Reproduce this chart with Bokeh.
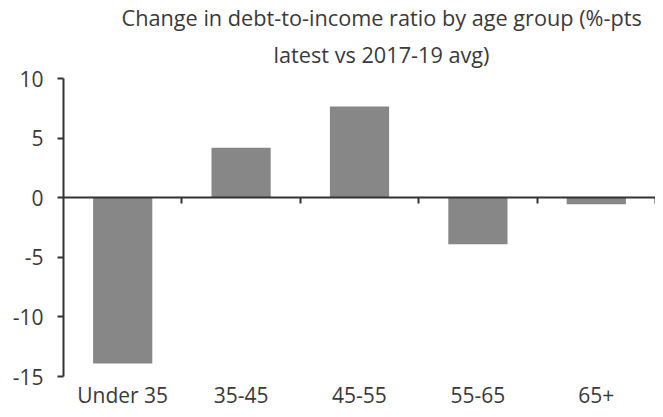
from bokeh.plotting import figure
from bokeh.models import Range1d, LinearAxis, FixedTicker, SingleIntervalTicker, Title, PrintfTickFormatter
from bokeh.embed import file_html
from bokeh.resources import INLINE

categories = ["Under 35", "35-45", "45-55", "55-65", "65+"]
values = [-13.9, 4.2, 7.65, -3.9, -0.55]
title_line1 = "Change in debt-to-income ratio by age group (%-pts"
title_line2 = "latest vs 2017-19 avg)"

n = len(categories)
centers = [i + 0.5 for i in range(n)]
boundaries = [i + 1 for i in range(n)]

FONT = "Open Sans"
TXT = "#3a3a3a"
AX = "#333333"

p = figure(frame_width=592, frame_height=298, output_backend="svg", toolbar_location=None,
           x_range=Range1d(0, n), y_range=Range1d(-15, 10),
           min_border_left=63, min_border_right=0, min_border_top=78, min_border_bottom=0)

p.vbar(x=centers, top=values, bottom=0, width=0.5, fill_color="#878787", line_color=None)

def style_title(t, off, standoff):
    t.align = "left"
    t.offset = off
    t.text_font = FONT
    t.text_font_size = "21.7px"
    t.text_font_style = "normal"
    t.text_color = TXT
    t.standoff = standoff

p.title.text = title_line1
style_title(p.title, 58, -8)
t2 = Title(text=title_line2)
style_title(t2, 210, 20)
p.add_layout(t2, "above")

p.xgrid.visible = False
p.ygrid.visible = False
p.outline_line_color = None

# bottom category labels only
xa = p.xaxis[0]
xa.ticker = FixedTicker(ticks=centers)
xa.major_label_overrides = {c: lab for c, lab in zip(centers, categories)}
xa.axis_line_color = None
xa.major_tick_line_color = None
xa.major_tick_out = 0
xa.minor_tick_line_color = None
xa.major_label_text_font = FONT
xa.major_label_text_font_size = "21px"
xa.major_label_text_color = TXT
xa.major_label_standoff = 4

# y axis
ya = p.yaxis[0]
ya.ticker = SingleIntervalTicker(interval=5)
ya.formatter = PrintfTickFormatter(format="%d")
ya.axis_line_color = AX
ya.axis_line_width = 2
ya.major_tick_line_color = AX
ya.major_tick_line_width = 2
ya.major_tick_in = 0
ya.major_tick_out = 6
ya.minor_tick_line_color = None
ya.major_label_text_font = FONT
ya.major_label_text_font_size = "21px"
ya.major_label_text_color = TXT
ya.major_label_standoff = 14

# zero line axis with ticks at category boundaries (ticks hang below the line)
za = LinearAxis(fixed_location=0, ticker=FixedTicker(ticks=boundaries))
za.axis_line_color = AX
za.axis_line_width = 2
za.major_tick_line_color = AX
za.major_tick_line_width = 2
za.major_tick_in = 6
za.major_tick_out = 0
za.minor_tick_line_color = None
za.major_label_standoff = 0
za.major_label_text_font_size = "0px"
za.major_label_text_alpha = 0
p.add_layout(za, "above")

open("out.html", "w").write(file_html(p, INLINE))
